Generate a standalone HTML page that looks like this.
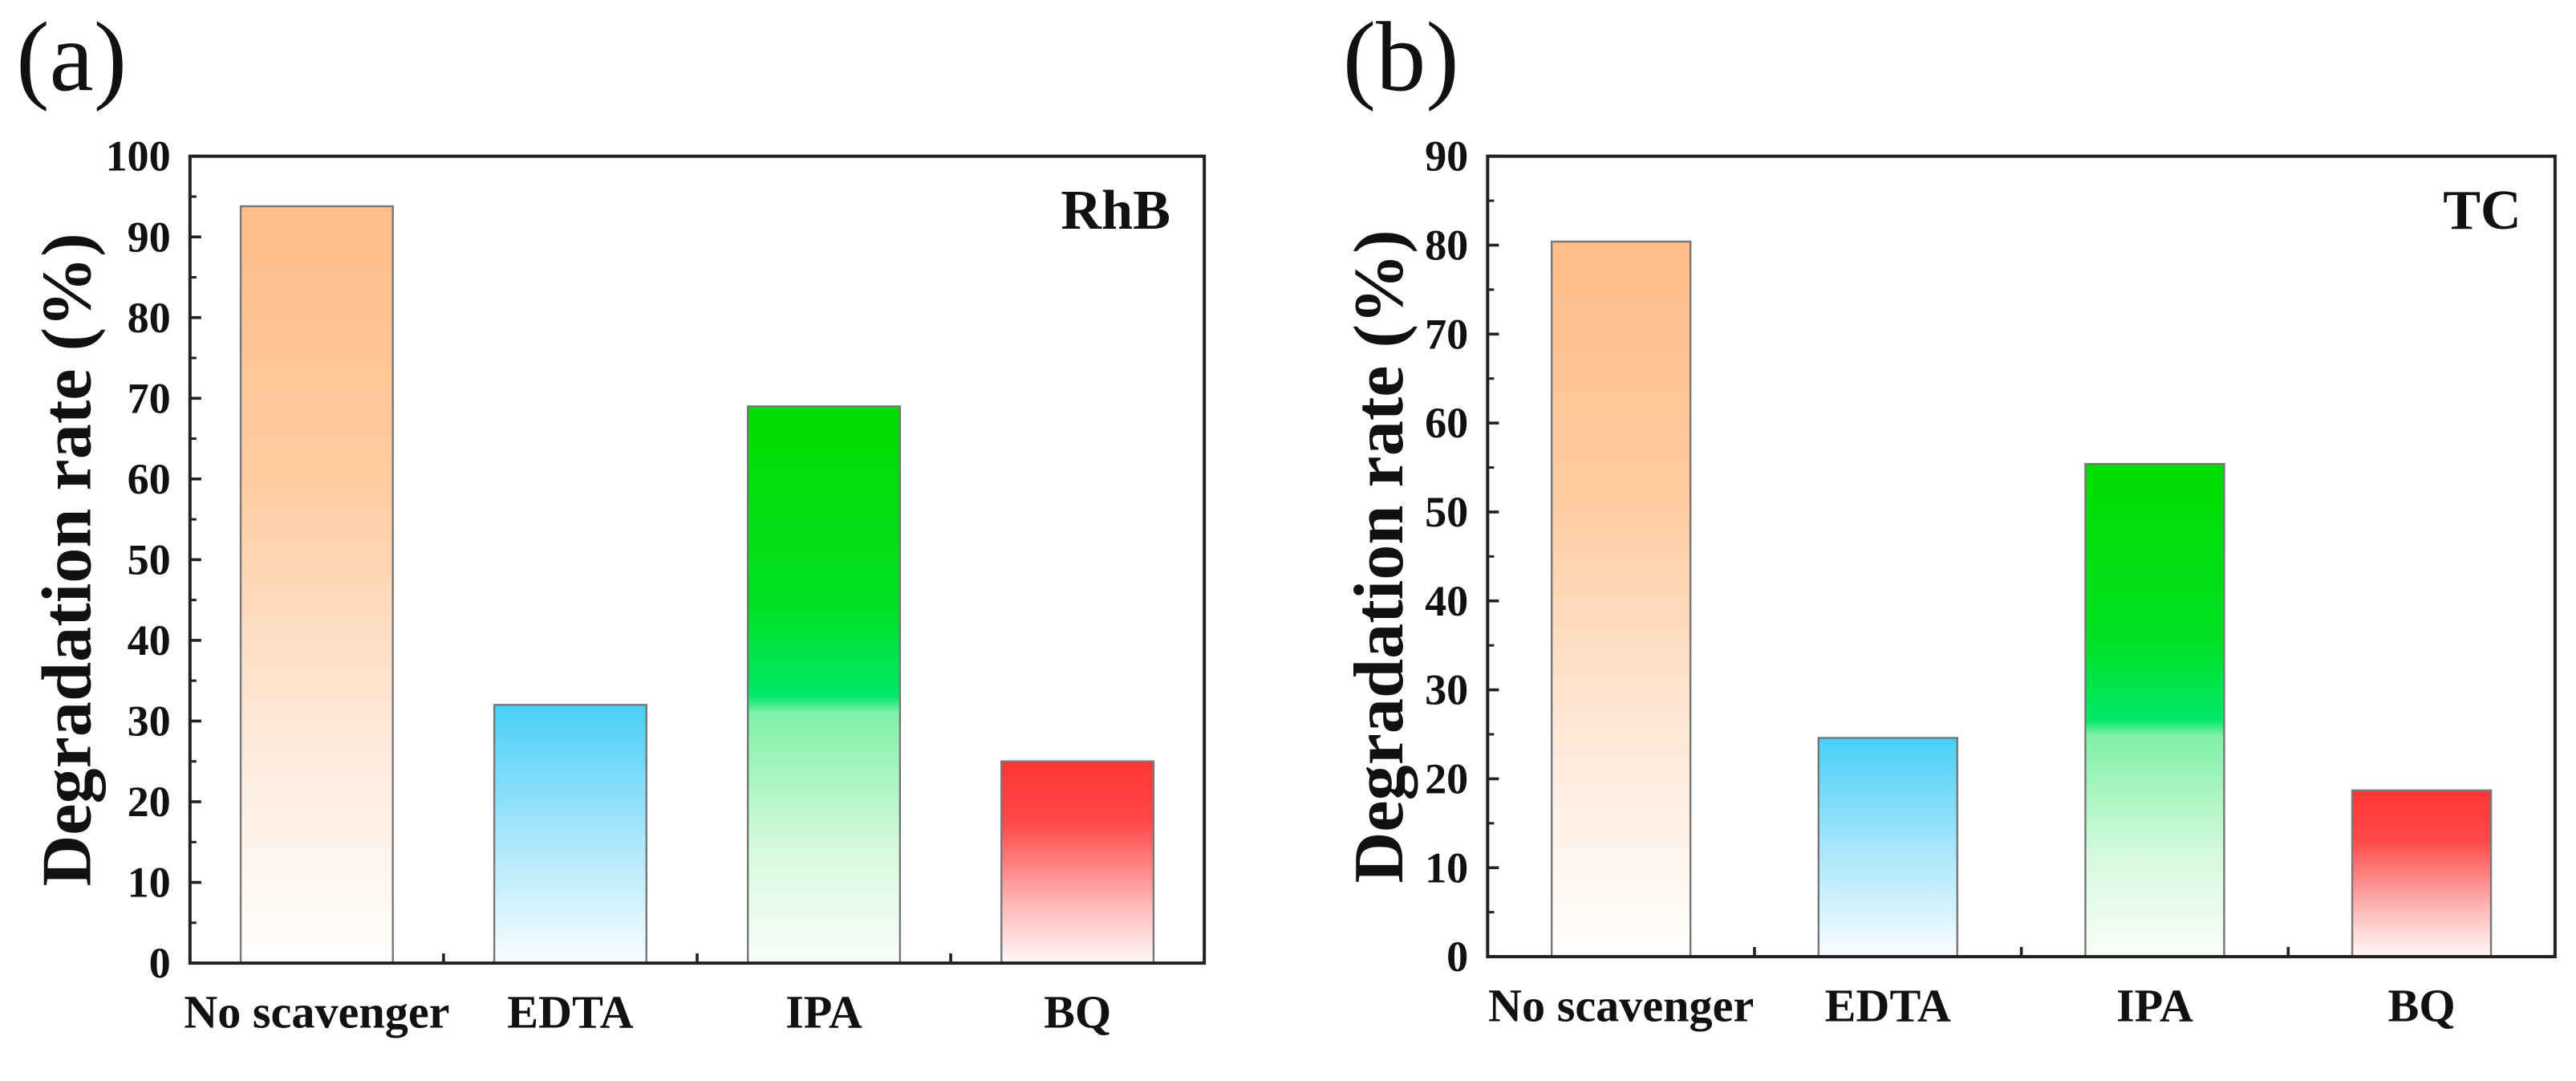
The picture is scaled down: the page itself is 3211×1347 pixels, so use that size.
<!DOCTYPE html>
<html><head><meta charset="utf-8"><style>
html,body{margin:0;padding:0;background:#fff}
svg{display:block}
text{font-family:"Liberation Serif",serif;font-weight:bold;fill:#111}
</style></head><body>
<svg id="fig" width="3211" height="1347" viewBox="0 0 1600 671.2" xmlns="http://www.w3.org/2000/svg">
<defs>
<linearGradient id="gOrange" x1="0" y1="0" x2="0" y2="1"><stop offset="0" stop-color="#ffbd8a"/><stop offset="0.35" stop-color="#ffcb9f"/><stop offset="0.7" stop-color="#fee9d9"/><stop offset="1" stop-color="#fffefd"/></linearGradient>
<linearGradient id="gBlue" x1="0" y1="0" x2="0" y2="1"><stop offset="0" stop-color="#48cff8"/><stop offset="0.5" stop-color="#a6e6fb"/><stop offset="1" stop-color="#fafdff"/></linearGradient>
<linearGradient id="gGreen" x1="0" y1="0" x2="0" y2="1"><stop offset="0" stop-color="#00dd00"/><stop offset="0.35" stop-color="#00e020"/><stop offset="0.52" stop-color="#00e86a"/><stop offset="0.55" stop-color="#80f0a8"/><stop offset="0.8" stop-color="#d8fadf"/><stop offset="1" stop-color="#f8fef8"/></linearGradient>
<linearGradient id="gRed" x1="0" y1="0" x2="0" y2="1"><stop offset="0" stop-color="#ff3535"/><stop offset="0.3" stop-color="#ff4848"/><stop offset="0.7" stop-color="#ffb5b5"/><stop offset="1" stop-color="#fff8f8"/></linearGradient>
</defs>
<g id="panelA"></g>
<g id="panelB"></g>
</svg>
<script>
const categories = ["No scavenger", "EDTA", "IPA", "BQ"];
const rhbValues = [93.8, 32, 69, 25];
const tcValues = [80.4, 24.6, 55.4, 18.7];
const rhbTicks = [0, 10, 20, 30, 40, 50, 60, 70, 80, 90, 100];
const tcTicks = [0, 10, 20, 30, 40, 50, 60, 70, 80, 90];
const fills = ["url(#gOrange)", "url(#gBlue)", "url(#gGreen)", "url(#gRed)"];
const NS = "http://www.w3.org/2000/svg";

function mk(parent, tag, attrs, txt) {
  const e = document.createElementNS(NS, tag);
  for (const k in attrs) e.setAttribute(k, attrs[k]);
  if (txt !== undefined) e.textContent = txt;
  parent.appendChild(e);
  return e;
}

function drawPanel(g, cfg) {
  const {L, T, R, B, maxV, ticks, values, barFrac, letter, letterX, tag, tagX, titleX, pfx} = cfg;
  const y = v => B - (v / maxV) * (B - T);
  const slot = (R - L) / categories.length;
  const x = i => L + slot * (i + 0.5);
  const bw = slot * barFrac;

  values.forEach((v, i) => {
    const r = mk(g, "rect", {x: x(i) - bw / 2, y: y(v), width: bw, height: B - y(v), fill: fills[i], stroke: "#777", "stroke-width": 1.2});
    
    
  });

  const frame = mk(g, "rect", {x: L, y: T, width: R - L, height: B - T, fill: "none", stroke: "#222", "stroke-width": 2});
  
  

  ticks.forEach(t => {
    const tk = mk(g, "line", {x1: L, x2: L + 7, y1: y(t), y2: y(t), stroke: "#222", "stroke-width": 1.8});
    
    
    const lb = mk(g, "text", {x: L - 12, y: y(t) + 9, "text-anchor": "end", "font-size": 27}, String(t));
    
    
    if (t < maxV) {
      const mn = mk(g, "line", {x1: L, x2: L + 4, y1: y(t + 5), y2: y(t + 5), stroke: "#222", "stroke-width": 1.5});
      
      
    }
  });

  for (let i = 1; i < categories.length; i++) {
    const bt = mk(g, "line", {x1: L + slot * i, x2: L + slot * i, y1: B, y2: B - 6, stroke: "#222", "stroke-width": 1.8});
    
    
  }

  categories.forEach((c, i) => {
    const lb = mk(g, "text", {x: x(i), y: B + 40, "text-anchor": "middle", "font-size": 29}, c);
    
    
  });

  const yt = mk(g, "text", {x: titleX, y: (T + B) / 2, "text-anchor": "middle", "font-size": 44, transform: `rotate(-90 ${titleX} ${(T + B) / 2})`}, "Degradation rate (%)");
  
  

  const lt = mk(g, "text", {x: letterX, y: 56, "font-size": 62, style: "font-weight:normal"}, letter);
  
  

  const tg = mk(g, "text", {x: tagX, y: 142, "text-anchor": "end", "font-size": 35}, tag);
  
  
}

drawPanel(document.getElementById("panelA"), {L: 118, T: 97, R: 748, B: 598, maxV: 100, ticks: rhbTicks, values: rhbValues, barFrac: 0.6, letter: "(a)", letterX: 10, tag: "RhB", tagX: 727, titleX: 56, pfx: "rhb"});
drawPanel(document.getElementById("panelB"), {L: 924, T: 97, R: 1587, B: 594, maxV: 90, ticks: tcTicks, values: tcValues, barFrac: 0.52, letter: "(b)", letterX: 834, tag: "TC", tagX: 1566, titleX: 871, pfx: "tc"});
</script>
</body></html>
